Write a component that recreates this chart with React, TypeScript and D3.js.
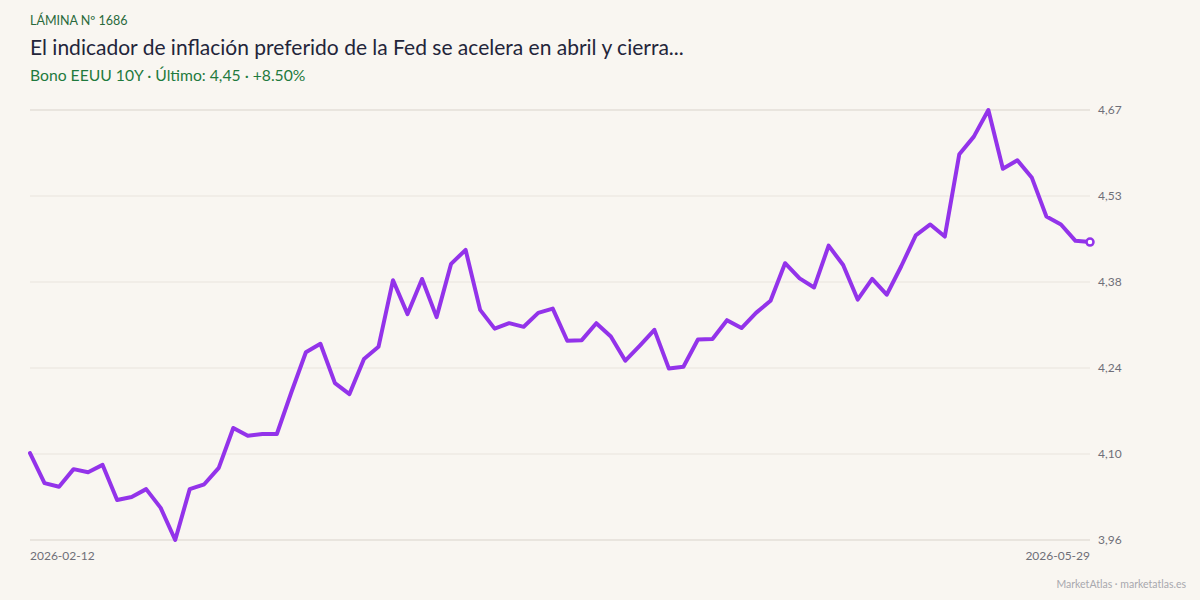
import { useEffect, useRef } from 'react';
import * as d3 from 'd3';

// Daily 10Y US Treasury yield, business days 2026-02-12 .. 2026-05-29
const yields: number[] = [
  4.1014, 4.052, 4.046, 4.075, 4.070, 4.082, 4.024, 4.029, 4.042, 4.011,
  3.958, 4.042, 4.050, 4.077, 4.143, 4.130, 4.133, 4.133, 4.202, 4.268,
  4.282, 4.217, 4.199, 4.257, 4.277, 4.387, 4.331, 4.389, 4.326, 4.414,
  4.437, 4.338, 4.307, 4.316, 4.310, 4.333, 4.340, 4.287, 4.288, 4.316,
  4.294, 4.254, 4.279, 4.305, 4.241, 4.244, 4.289, 4.290, 4.321, 4.308,
  4.333, 4.353, 4.415, 4.390, 4.375, 4.444, 4.412, 4.355, 4.389, 4.363,
  4.410, 4.461, 4.479, 4.459, 4.595, 4.624, 4.668, 4.571, 4.585, 4.556,
  4.492, 4.479, 4.452, 4.45,
];

const dateLabels: string[] = ['2026-02-12', '2026-05-29'];

const kicker = 'LÁMINA Nº 1686';
const title = 'El indicador de inflación preferido de la Fed se acelera en abril y cierra...';
const seriesName = 'Bono EEUU 10Y';
const credit = 'MarketAtlas · marketatlas.es';

const WIDTH = 1200;
const HEIGHT = 600;
const FONT = 'Lato, "Noto Sans", sans-serif';

const fmt = (v: number) => v.toFixed(2).replace('.', ',');

const App = () => {
  const svgRef = useRef<SVGSVGElement | null>(null);

  useEffect(() => {
    if (!svgRef.current) return;
    const svg = d3.select(svgRef.current);
    svg.selectAll('*').remove();

    const margin = { top: 110, right: 110, bottom: 60, left: 30 };
    const innerRight = WIDTH - margin.right;
    const innerBottom = HEIGHT - margin.bottom;

    svg.append('rect')
      .attr('width', WIDTH)
      .attr('height', HEIGHT)
      .attr('fill', '#f9f6f1');

    const [minV, maxV] = d3.extent(yields) as [number, number];

    const x = d3.scaleLinear()
      .domain([0, yields.length - 1])
      .range([margin.left, innerRight]);

    const y = d3.scaleLinear()
      .domain([minV, maxV])
      .range([innerBottom, margin.top]);

    // six evenly spaced ticks between min and max
    const ticks = d3.range(6).map(i => minV + (i * (maxV - minV)) / 5);

    const grid = svg.append('g');
    ticks.forEach((t, i) => {
      const edge = i === 0 || i === ticks.length - 1;
      grid.append('line')
        .attr('x1', margin.left)
        .attr('x2', innerRight)
        .attr('y1', y(t))
        .attr('y2', y(t))
        .attr('stroke', edge ? '#d9d3cb' : '#e9e4dd')
        .attr('stroke-width', 1);
      grid.append('text')
        .attr('x', innerRight + 8)
        .attr('y', y(t))
        .attr('dy', '0.35em')
        .style('font-family', FONT)
        .style('font-size', '12px')
        .style('fill', '#6f6f78')
        .text(fmt(t));
    });

    // date labels at both ends
    svg.append('text')
      .attr('x', x(0))
      .attr('y', innerBottom + 20)
      .style('font-family', FONT)
      .style('font-size', '12px')
      .style('fill', '#6f6f78')
      .text(dateLabels[0]);
    svg.append('text')
      .attr('x', x(yields.length - 1))
      .attr('y', innerBottom + 20)
      .attr('text-anchor', 'end')
      .style('font-family', FONT)
      .style('font-size', '12px')
      .style('fill', '#6f6f78')
      .text(dateLabels[1]);

    const line = d3.line<number>()
      .x((_, i) => x(i))
      .y(d => y(d));

    svg.append('path')
      .datum(yields)
      .attr('fill', 'none')
      .attr('stroke', '#9333ea')
      .attr('stroke-width', 4)
      .attr('stroke-linejoin', 'round')
      .attr('stroke-linecap', 'round')
      .attr('d', line);

    const last = yields[yields.length - 1];
    svg.append('circle')
      .attr('cx', x(yields.length - 1))
      .attr('cy', y(last))
      .attr('r', 3.5)
      .attr('fill', '#ffffff')
      .attr('stroke', '#9333ea')
      .attr('stroke-width', 2.5);

    // header
    svg.append('text')
      .attr('x', 30)
      .attr('y', 25)
      .style('font-family', FONT)
      .style('font-size', '12.5px')
      .style('fill', '#2a6a3c')
      .text(kicker);

    svg.append('text')
      .attr('x', 30)
      .attr('y', 55)
      .style('font-family', FONT)
      .style('font-size', '21px')
      .style('fill', '#23253a')
      .text(title);

    const change = (last / yields[0] - 1) * 100;
    svg.append('text')
      .attr('x', 30)
      .attr('y', 81)
      .style('font-family', FONT)
      .style('font-size', '15.7px')
      .style('fill', '#1f7a3d')
      .text(`${seriesName} · Último: ${fmt(last)} · ${change >= 0 ? '+' : ''}${change.toFixed(2)}%`);

    svg.append('text')
      .attr('x', WIDTH - 14)
      .attr('y', 588)
      .attr('text-anchor', 'end')
      .style('font-family', FONT)
      .style('font-size', '10.5px')
      .style('fill', '#a8a8ae')
      .text(credit);
  }, []);

  return (
    <svg
      ref={svgRef}
      width={WIDTH}
      height={HEIGHT}
      style={{ position: 'absolute', left: 0, top: 0, display: 'block' }}
    />
  );
};

export default App;
